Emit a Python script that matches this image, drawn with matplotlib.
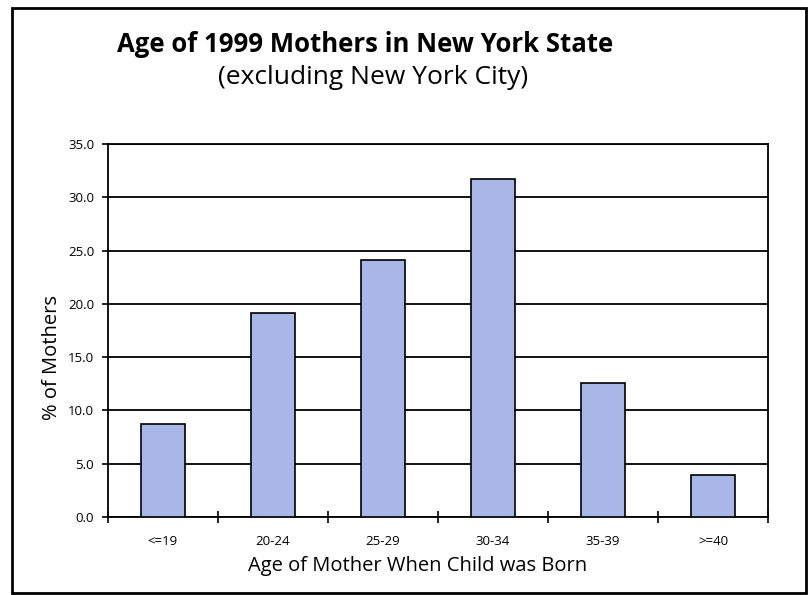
import matplotlib
matplotlib.use("Agg")
import matplotlib.pyplot as plt
from matplotlib.patches import Rectangle
import numpy as np

categories = ["<=19", "20-24", "25-29", "30-34", "35-39", ">=40"]
percent_mothers = [8.7, 19.1, 24.1, 31.7, 12.6, 3.9]
y_ticks = [0.0, 5.0, 10.0, 15.0, 20.0, 25.0, 30.0, 35.0]

title = "Age of 1999 Mothers in New York State"
subtitle = "(excluding New York City)"
x_label = "Age of Mother When Child was Born"
y_label = "% of Mothers"

plt.rcParams['font.family'] = ['Open Sans', 'DejaVu Sans']

W, H = 810, 595
fig = plt.figure(figsize=(W / 100, H / 100), dpi=100)
fig.patch.set_facecolor("white")

def fx(px):
    return px / W

def fy(py):
    return 1 - py / H

ax = fig.add_axes([fx(108), fy(517), fx(768) - fx(108), fy(144) - fy(517)])

x = np.arange(len(categories))
ax.bar(x, percent_mothers, width=0.4, color="#a9b7e8", edgecolor="black",
       linewidth=1.2, zorder=3)

ax.set_xlim(-0.5, len(categories) - 0.5)
ax.set_ylim(0, 35)
ax.set_yticks(y_ticks)
ax.set_yticklabels([f"{v:.1f}" for v in y_ticks], fontsize=9.5)
ax.yaxis.grid(True, color="black", linewidth=1.3, zorder=1)
ax.set_axisbelow(True)

ax.set_xticks(x)
ax.set_xticklabels(categories, fontsize=9.5)
ax.tick_params(axis="x", which="major", length=0, pad=13)
ax.set_xticks(np.arange(-0.5, len(categories), 1.0), minor=True)
ax.tick_params(axis="x", which="minor", length=8, width=1.2, direction="inout")
ax.tick_params(axis="y", length=4, width=1.2, direction="out", pad=6)

for s in ax.spines.values():
    s.set_linewidth(1.3)
    s.set_color("black")

fig.text(fx(365), fy(45), title, ha="center", va="center", fontsize=18.5,
         fontweight="bold")
fig.text(fx(373), fy(77), subtitle, ha="center", va="center", fontsize=19)
fig.text(fx(418), fy(566), x_label, ha="center", va="center", fontsize=14.5)
fig.text(fx(52), fy(358), y_label, ha="center", va="center", fontsize=14.5,
         rotation=90)

fig.patches.append(Rectangle((fx(12), fy(593)), fx(806) - fx(12), fy(8) - fy(593),
                             transform=fig.transFigure, fill=False,
                             edgecolor="black", linewidth=2))

fig.savefig("out.png", dpi=100)
